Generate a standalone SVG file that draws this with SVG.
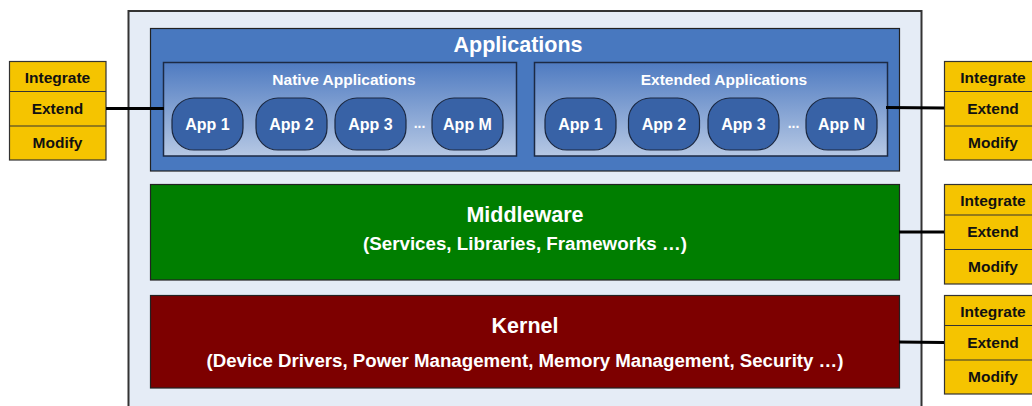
<svg xmlns="http://www.w3.org/2000/svg" width="1032" height="406" viewBox="0 0 1032 406">
<defs>
<linearGradient id="sub" x1="0" y1="0" x2="0" y2="1">
<stop offset="0" stop-color="#4f7bc1"/>
<stop offset="1" stop-color="#b6c8e4"/>
</linearGradient>
<style>
text{font-family:"Liberation Sans",Arial,sans-serif;font-weight:bold;text-anchor:middle}
.w{fill:#ffffff}
.k{fill:#000000}
.app rect{fill:#3862a6;stroke:#1a2740;stroke-width:1.2}
.app text{font-size:16px;fill:#ffffff}
.ye rect{fill:#f5c400;stroke:#333333;stroke-width:1.2}
.ye line{stroke:#333333;stroke-width:1.2}
.ye text{font-size:15.5px;fill:#111111}
.conn line{stroke:#000000;stroke-width:3}
</style>
</defs>
<rect width="1032" height="406" fill="#ffffff"/>
<g id="system">
<rect x="128.5" y="11" width="793" height="410" fill="#e5ecf6" stroke="#333333" stroke-width="2"/>
</g>
<g id="applications">
<rect x="150.5" y="28.5" width="749" height="142.5" fill="#4878bf" stroke="#222222" stroke-width="1.2"/>
<text class="w" x="518" y="51.5" font-size="21.5">Applications</text>
</g>
<g id="native">
<rect x="163.5" y="62.5" width="353" height="93.5" fill="url(#sub)" stroke="#1c2a44" stroke-width="1.5"/>
<text class="w" x="344" y="84.5" font-size="15.5">Native Applications</text>
</g>
<g id="native-app1" class="app"><rect x="172" y="98" width="71" height="52" rx="22"/><text x="207.5" y="129.5">App 1</text></g>
<g id="native-app2" class="app"><rect x="256" y="98" width="71" height="52" rx="22"/><text x="291.5" y="129.5">App 2</text></g>
<g id="native-app3" class="app"><rect x="335" y="98" width="71" height="52" rx="22"/><text x="370.5" y="129.5">App 3</text></g>
<text class="w" x="419.5" y="128" font-size="14">...</text>
<g id="native-appM" class="app"><rect x="432" y="98" width="71" height="52" rx="22"/><text x="467.5" y="129.5">App M</text></g>
<g id="extended">
<rect x="534.5" y="62.5" width="353" height="93.5" fill="url(#sub)" stroke="#1c2a44" stroke-width="1.5"/>
<text class="w" x="724" y="84.5" font-size="15.5">Extended Applications</text>
</g>
<g id="ext-app1" class="app"><rect x="545" y="98" width="71" height="52" rx="22"/><text x="580.5" y="129.5">App 1</text></g>
<g id="ext-app2" class="app"><rect x="628.5" y="98" width="71" height="52" rx="22"/><text x="664" y="129.5">App 2</text></g>
<g id="ext-app3" class="app"><rect x="708" y="98" width="71" height="52" rx="22"/><text x="743.5" y="129.5">App 3</text></g>
<text class="w" x="793.5" y="128" font-size="14">...</text>
<g id="ext-appN" class="app"><rect x="806" y="98" width="71" height="52" rx="22"/><text x="841.5" y="129.5">App N</text></g>
<g id="middleware">
<rect x="150.5" y="184.5" width="749" height="95.5" fill="#007e00" stroke="#222222" stroke-width="1.2"/>
<text class="w" x="525" y="221.5" font-size="21.5">Middleware</text>
<text class="w" x="525" y="249.5" font-size="18" textLength="324" lengthAdjust="spacingAndGlyphs">(Services, Libraries, Frameworks …)</text>
</g>
<g id="kernel">
<rect x="150.5" y="295.5" width="749" height="92.5" fill="#7d0000" stroke="#222222" stroke-width="1.2"/>
<text class="w" x="525" y="333" font-size="21.5">Kernel</text>
<text class="w" x="525" y="366.5" font-size="18" textLength="637" lengthAdjust="spacingAndGlyphs">(Device Drivers, Power Management, Memory Management, Security …)</text>
</g>
<g id="options-left" class="ye">
<rect x="9.5" y="61.5" width="96.5" height="98.5"/>
<line x1="9.5" y1="91.5" x2="106" y2="91.5"/>
<line x1="9.5" y1="126" x2="106" y2="126"/>
<text x="57.5" y="82.5">Integrate</text>
<text x="57.5" y="113.5">Extend</text>
<text x="57.5" y="148">Modify</text>
</g>
<g id="options-apps" class="ye">
<rect x="944.5" y="61.5" width="100" height="98.5"/>
<line x1="944.5" y1="91.5" x2="1044" y2="91.5"/>
<line x1="944.5" y1="126" x2="1044" y2="126"/>
<text x="993" y="82.5">Integrate</text>
<text x="993" y="113.5">Extend</text>
<text x="993" y="148">Modify</text>
</g>
<g id="options-middleware" class="ye">
<rect x="944.5" y="184.5" width="100" height="99.5"/>
<line x1="944.5" y1="215" x2="1044" y2="215"/>
<line x1="944.5" y1="249.5" x2="1044" y2="249.5"/>
<text x="993" y="206">Integrate</text>
<text x="993" y="237">Extend</text>
<text x="993" y="271.5">Modify</text>
</g>
<g id="options-kernel" class="ye">
<rect x="944.5" y="295.5" width="100" height="98.5"/>
<line x1="944.5" y1="325.5" x2="1044" y2="325.5"/>
<line x1="944.5" y1="360" x2="1044" y2="360"/>
<text x="993" y="317">Integrate</text>
<text x="993" y="347.5">Extend</text>
<text x="993" y="382">Modify</text>
</g>
<g id="connectors" class="conn">
<line x1="106" y1="108.5" x2="164" y2="108.5"/>
<line x1="886" y1="107.5" x2="944" y2="108"/>
<line x1="899" y1="232" x2="944" y2="232"/>
<line x1="899" y1="342" x2="944" y2="342.5"/>
</g>
</svg>
